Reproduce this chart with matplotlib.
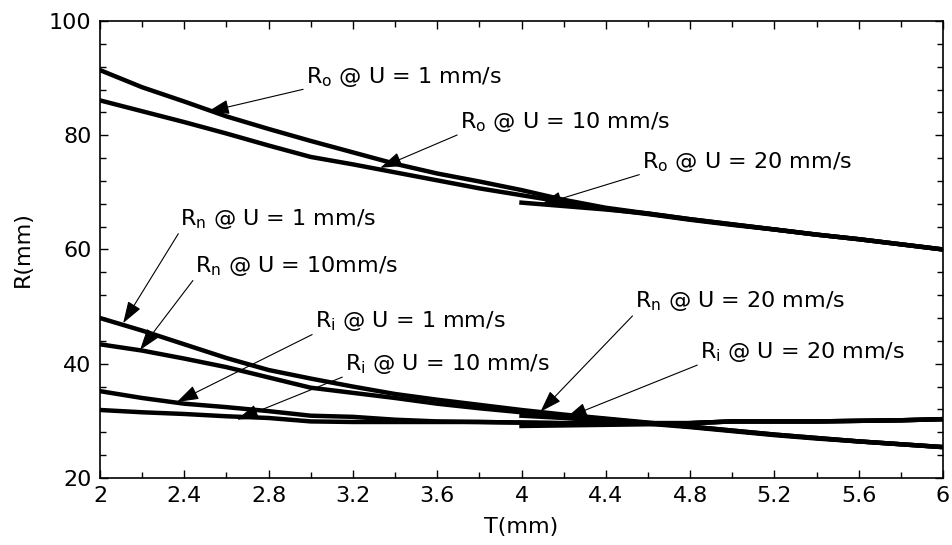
import matplotlib
matplotlib.use('Agg')
import matplotlib.pyplot as plt
from matplotlib.ticker import MultipleLocator

plt.rcParams['font.family'] = ['DejaVu Sans']
plt.rcParams['mathtext.fontset'] = 'dejavusans'

# thickness T (mm)
T_full = [2.0, 2.2, 2.4, 2.6, 2.8, 3.0, 3.2, 3.4, 3.6, 3.8, 4.0,
          4.2, 4.4, 4.6, 4.8, 5.0, 5.2, 5.4, 5.6, 5.8, 6.0]
T_half = [4.0, 4.2, 4.4, 4.6, 4.8, 5.0, 5.2, 5.4, 5.6, 5.8, 6.0]

# outer radius
Ro_1 = [91.4, 88.4, 85.9, 83.3, 81.1, 79.0, 77.0, 75.0, 73.3, 71.9, 70.4,
        68.7, 67.3, 66.3, 65.3, 64.4, 63.5, 62.6, 61.8, 60.9, 60.0]
Ro_10 = [86.1, 84.2, 82.3, 80.3, 78.2, 76.2, 74.9, 73.5, 72.1, 70.7, 69.5,
         68.3, 67.1, 66.2, 65.2, 64.3, 63.5, 62.6, 61.8, 60.9, 60.0]
Ro_20 = [68.2, 67.6, 67.0, 66.3, 65.3, 64.4, 63.5, 62.6, 61.8, 60.9, 60.0]

# neutral radius
Rn_1 = [48.0, 45.8, 43.4, 41.0, 38.9, 37.4, 36.0, 34.7, 33.7, 32.8, 31.9,
        31.1, 30.4, 29.7, 29.0, 28.3, 27.6, 27.0, 26.4, 25.9, 25.4]
Rn_10 = [43.4, 42.3, 40.9, 39.4, 37.6, 35.8, 34.9, 34.0, 33.0, 32.2, 31.5,
         30.9, 30.3, 29.6, 29.0, 28.3, 27.6, 27.0, 26.4, 25.9, 25.4]
Rn_20 = [30.9, 30.5, 30.0, 29.5, 28.9, 28.2, 27.5, 26.9, 26.4, 25.9, 25.4]

# inner radius
Ri_1 = [35.2, 34.0, 33.0, 32.4, 31.7, 30.9, 30.7, 30.2, 29.9, 29.8, 29.7,
        29.6, 29.6, 29.6, 29.6, 29.9, 29.9, 29.9, 30.0, 30.1, 30.3]
Ri_10 = [31.9, 31.5, 31.2, 30.8, 30.5, 29.9, 29.8, 29.8, 29.8, 29.8, 29.7,
         29.6, 29.6, 29.6, 29.6, 29.9, 29.9, 29.9, 30.0, 30.1, 30.3]
Ri_20 = [29.1, 29.2, 29.3, 29.4, 29.6, 29.9, 29.9, 29.9, 30.0, 30.1, 30.3]

labels = [r'R$_\mathrm{o}$ @ U = 1 mm/s', r'R$_\mathrm{o}$ @ U = 10 mm/s',
          r'R$_\mathrm{o}$ @ U = 20 mm/s', r'R$_\mathrm{n}$ @ U = 1 mm/s',
          r'R$_\mathrm{n}$ @ U = 10mm/s', r'R$_\mathrm{i}$ @ U = 1 mm/s',
          r'R$_\mathrm{i}$ @ U = 10 mm/s', r'R$_\mathrm{n}$ @ U = 20 mm/s',
          r'R$_\mathrm{i}$ @ U = 20 mm/s']
# (arrow tip, text position) in data units
tips = [(2.51, 84.1), (3.33, 74.3), (4.09, 67.8), (2.11, 47.1), (2.19, 42.4),
        (2.365, 33.3), (2.65, 30.2), (4.09, 31.6), (4.21, 30.5)]
txts = [(2.977, 89.2), (3.708, 81.3), (4.572, 74.3), (2.38, 64.3), (2.451, 56.1),
        (3.02, 46.4), (3.163, 38.9), (4.539, 49.9), (4.847, 41.0)]

xticks = [2, 2.4, 2.8, 3.2, 3.6, 4, 4.4, 4.8, 5.2, 5.6, 6]
xticklabels = ['2', '2.4', '2.8', '3.2', '3.6', '4', '4.4', '4.8', '5.2', '5.6', '6']

fig = plt.figure(figsize=(9.52, 5.45), dpi=100)
ax = fig.add_axes([0.105, 0.123, 0.8856, 0.8385])

for T, R in [(T_full, Ro_1), (T_full, Ro_10), (T_half, Ro_20),
             (T_full, Rn_1), (T_full, Rn_10), (T_half, Rn_20),
             (T_full, Ri_1), (T_full, Ri_10), (T_half, Ri_20)]:
    ax.plot(T, R, color='black', lw=3.2, solid_joinstyle='round')

for lab, tip, txt in zip(labels, tips, txts):
    ax.annotate(lab, xy=tip, xytext=txt, fontsize=16, va='baseline', ha='left',
                arrowprops=dict(arrowstyle='-|>,head_length=0.9,head_width=0.3',
                                color='black', lw=0.8, relpos=(0, 0),
                                shrinkA=0, shrinkB=0, mutation_scale=15))

ax.set_xlim(2, 6)
ax.set_ylim(20, 100)
ax.set_xticks(xticks)
ax.set_xticklabels(xticklabels)
ax.xaxis.set_minor_locator(MultipleLocator(0.2))
ax.yaxis.set_major_locator(MultipleLocator(20))
ax.yaxis.set_minor_locator(MultipleLocator(4))
ax.tick_params(which='both', direction='in', top=True, right=True, labelsize=16, width=1, pad=6)
ax.tick_params(which='major', length=6)
ax.tick_params(which='minor', length=4)
for s in ax.spines.values():
    s.set_linewidth(1.2)
ax.set_xlabel('T(mm)', fontsize=16)
ax.set_ylabel('R(mm)', fontsize=16)
ax.xaxis.set_label_coords(0.5, -0.085)
ax.yaxis.set_label_coords(-0.08, 0.5)

fig.savefig('out.png', dpi=100)
